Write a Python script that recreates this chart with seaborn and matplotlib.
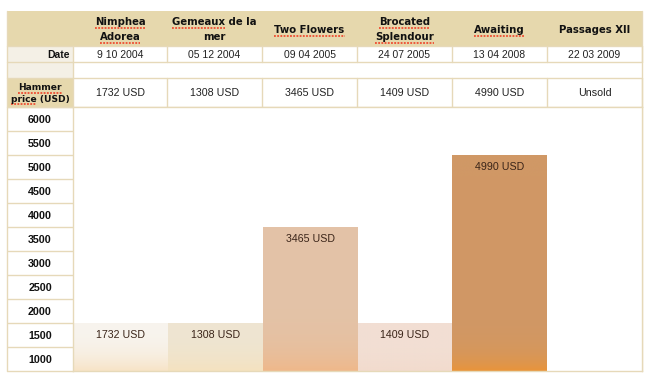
import numpy as np
import matplotlib
matplotlib.use("Agg")
import matplotlib.pyplot as plt
import seaborn as sns
import pandas as pd

# ---- data ----
titles = ["Nimphea\nAdorea", "Gemeaux de la\nmer", "Two Flowers", "Brocated\nSplendour", "Awaiting", "Passages XII"]
dates = ["9 10 2004", "05 12 2004", "09 04 2005", "24 07 2005", "13 04 2008", "22 03 2009"]
price_labels = ["1732 USD", "1308 USD", "3465 USD", "1409 USD", "4990 USD", "Unsold"]
bar_heights = [1500, 1500, 3500, 1500, 5000, 0]   # drawn heights (rounded to the 500 grid)
bar_labels = ["1732 USD", "1308 USD", "3465 USD", "1409 USD", "4990 USD", ""]
y_ticks = [6000, 5500, 5000, 4500, 4000, 3500, 3000, 2500, 2000, 1500, 1000]
top_colors = ["#f8f4ee", "#eee5d2", "#e3c3a8", "#f2dfd4", "#d09866", "#ffffff"]
bottom_colors = ["#f7e3c6", "#f5e2bf", "#efb88a", "#f2dbcd", "#e9943a", "#ffffff"]
ramp_power = [2.5, 2.5, 6, 3, 14, 1]
spell_marked = ["Nimphea", "Adorea", "Gemeaux", "Two Flowers", "Brocated", "Splendour", "Awaiting", "Hammer", "price"]

W, H = 650, 386
fig = plt.figure(figsize=(W / 100, H / 100), dpi=100)
sns.set_style("white")
plt.rcParams["font.family"] = ["Liberation Sans", "DejaVu Sans"]

TAN = "#e6d8ad"
LIGHT = "#f4f0e6"
LINE = "#e6d9b9"
TXT = "#222222"

tab = fig.add_axes([0, 0, 1, 1], zorder=0)
tab.set_xlim(0, W)
tab.set_ylim(H, 0)
tab.axis("off")

col_edges = [73, 167, 262, 357, 452, 547, 642]
L = 7
tab.add_patch(plt.Rectangle((L, 11), 642 - L, 35, color=TAN, lw=0))
tab.add_patch(plt.Rectangle((L, 46), 73 - L, 16, color=LIGHT, lw=0))
tab.add_patch(plt.Rectangle((L, 62), 73 - L, 16, color=LIGHT, lw=0))
tab.add_patch(plt.Rectangle((L, 78), 73 - L, 29, color=TAN, lw=0))

for y in [46, 62, 78, 107]:
    tab.plot([L, 642], [y, y], color=LINE, lw=1)
tab.plot([L, L], [11, 371], color=LINE, lw=1)
tab.plot([642, 642], [11, 371], color=LINE, lw=1)
for x in col_edges:
    tab.plot([x, x], [46, 62], color=LINE, lw=1)
    tab.plot([x, x], [78, 107], color=LINE, lw=1)
tab.plot([73, 73], [62, 78], color=LINE, lw=1)

header_texts = []
centers = [(col_edges[i] + col_edges[i + 1]) / 2 for i in range(6)]
for i, c in enumerate(centers):
    lines = titles[i].split("\n")
    baselines = [25.0, 40.5] if len(lines) == 2 else [33.0]
    for ln, yb in zip(lines, baselines):
        t = tab.text(c, yb, ln, ha="center", va="baseline", fontsize=7.3,
                     fontweight="bold", family=["DejaVu Sans"], color="#111111")
        header_texts.append((t, ln))
    tab.text(c, 54.5, dates[i], ha="center", va="center", fontsize=7.5, color=TXT)
    tab.text(c, 93, price_labels[i], ha="center", va="center", fontsize=7.7, color=TXT)

tab.text(70, 54.5, "Date", ha="right", va="center", fontsize=7.5, fontweight="bold", color="#111111")
for ln, yb in zip(["Hammer", "price (USD)"], [90.0, 101.5]):
    t = tab.text(40, yb, ln, ha="center", va="baseline", fontsize=6.6,
                 fontweight="bold", family=["DejaVu Sans"], color="#111111")
    header_texts.append((t, ln))

# spell-check style red dotted underlines
fig.canvas.draw()
rend = fig.canvas.get_renderer()
for t, ln in header_texts:
    word = next((w for w in spell_marked if ln.startswith(w)), None)
    if word is None:
        continue
    bb = t.get_window_extent(rend)
    x_left = bb.x0
    tmp = tab.text(0, 0, word, fontsize=t.get_fontsize(), fontweight="bold",
                   family=["DejaVu Sans"])
    wb = tmp.get_window_extent(rend)
    tmp.remove()
    yb = np.floor(t.get_position()[1] + 2.0) + 0.5
    tab.plot([x_left, x_left + wb.width], [yb, yb], color="#f0341c", lw=1.1,
             linestyle=(0, (1.2, 0.9)), solid_capstyle="butt", dash_capstyle="butt")

# ---- chart axes ----
ax = fig.add_axes([73 / W, 1 - 371 / H, (642 - 73) / W, (371 - 107) / H], zorder=1)
df = pd.DataFrame({"title": titles, "height": bar_heights})
sns.barplot(data=df, x="title", y="height", hue="title", palette=top_colors,
            width=1.0, saturation=1, legend=False, ax=ax, linewidth=0)
ax.set_xlim(-0.5, 5.5)
ax.set_ylim(500, 6000)

for i, p in enumerate(ax.patches):
    x0 = p.get_x()
    w = p.get_width()
    h = p.get_height()
    if h <= 500:
        continue
    n = 300
    s = np.linspace(0, 1, n)[:, None]
    ramp = s ** ramp_power[i]
    tc = np.array(matplotlib.colors.to_rgb(top_colors[i]))
    bc = np.array(matplotlib.colors.to_rgb(bottom_colors[i]))
    img = (tc[None, :] * (1 - ramp) + bc[None, :] * ramp)[:, None, :]
    im = ax.imshow(img, extent=[x0, x0 + w, 500, h], origin="upper", aspect="auto",
                   zorder=p.get_zorder() + 0.1, interpolation="bilinear")
    im.set_clip_path(p)
ax.set_xlim(-0.5, 5.5)
ax.set_ylim(500, 6000)

for i, p in enumerate(ax.patches):
    if bar_labels[i]:
        ax.annotate(bar_labels[i], (p.get_x() + p.get_width() / 2, p.get_height()),
                    xytext=(0, -8.6), textcoords="offset points", ha="center", va="center",
                    fontsize=7.7, color="#3a2418", zorder=5)

ax.set_xlabel("")
ax.set_ylabel("")
ax.set_xticks([])
ax.set_yticks([v - 250 for v in y_ticks])
ax.set_yticklabels([str(v) for v in y_ticks], fontweight="bold", fontsize=7.7, color="#111111")
for lab in ax.get_yticklabels():
    lab.set_horizontalalignment("center")
ax.tick_params(axis="y", length=0, pad=33 * 0.72)
for sp in ax.spines.values():
    sp.set_color(LINE)
    sp.set_linewidth(1)
    sp.set_visible(True)
ax.hlines(list(range(500, 6001, 500)), -66 / 569, 0, transform=ax.get_yaxis_transform(),
          colors=LINE, lw=1, clip_on=False)

fig.savefig("out.png", dpi=100)
